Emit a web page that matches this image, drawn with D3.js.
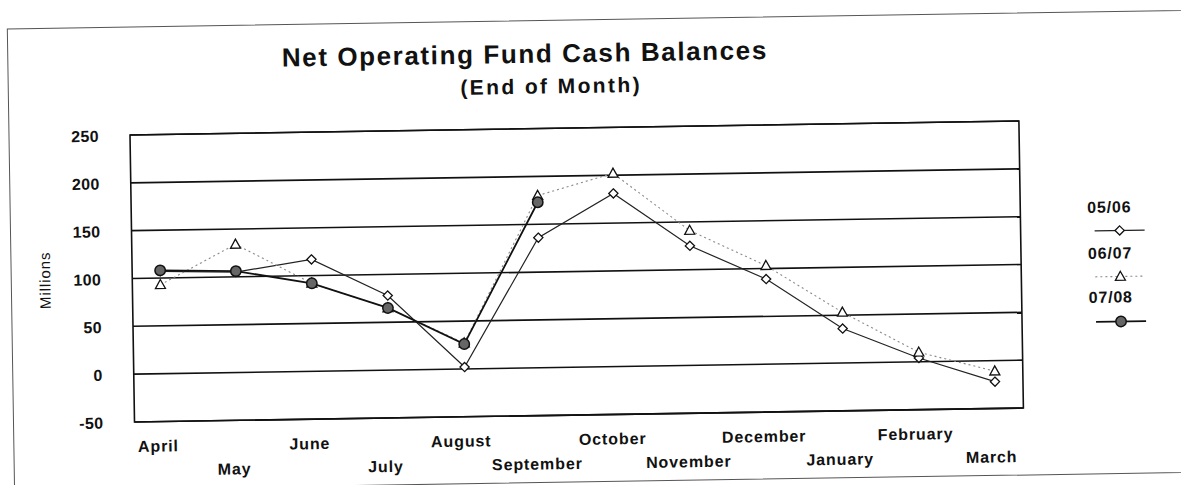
<!DOCTYPE html>
<html>
<head>
<meta charset="utf-8">
<script src="https://cdn.jsdelivr.net/npm/d3@7/dist/d3.min.js"></script>
<style>
  html, body { margin: 0; padding: 0; background: #fff; }
  svg { display: block; }
  text { font-family: "Liberation Sans", Arial, Helvetica, sans-serif; fill: #111; }
</style>
</head>
<body>
<svg id="chart" width="1181" height="485"></svg>
<script>
// ---- data ----
const months = ["April","May","June","July","August","September","October","November","December","January","February","March"];
const s0506 = [107, 105, 117, 78, 2, 136, 181, 125, 89, 36, 4, -22];
const s0607 = [93, 134, 92, 65, 27, 180, 202, 141, 103, 53, 10, -11];
const s0708 = [108, 106, 92, 65, 26, 173, null, null, null, null, null, null];
const seriesNames = ["05/06", "06/07", "07/08"];
const yTicks = [-50, 0, 50, 100, 150, 200, 250];
const titleText = "Net Operating Fund Cash Balances";
const subtitleText = "(End of Month)";
const yAxisTitle = "Millions";

// ---- layout ----
const W = 1181, H = 485;
const plot = { left: 130, top: 135, right: 1019, bottom: 422 };

const svg = d3.select("#chart");
svg.append("rect").attr("width", W).attr("height", H).attr("fill", "#fff");

// scanned page is slightly tilted
const g = svg.append("g").attr("transform", `rotate(-0.9,${plot.left},${plot.top})`);

// outer frame
g.append("rect").attr("x", 9).attr("y", 27).attr("width", 1300).attr("height", 462)
  .attr("fill", "none").attr("stroke", "#555").attr("stroke-width", 1);

const x = d3.scalePoint().domain(months).range([plot.left, plot.right]).padding(0.37);
const y = d3.scaleLinear().domain([-50, 250]).range([plot.bottom, plot.top]);

// title
g.append("text").attr("x", 283).attr("y", 69)
  .style("font-size", "26px").style("font-weight", "bold").style("letter-spacing", "1.6px")
  .text(titleText);
g.append("text").attr("x", 461).attr("y", 100)
  .style("font-size", "21px").style("font-weight", "bold").style("letter-spacing", "2.4px")
  .text(subtitleText);

// gridlines
g.append("g").selectAll("line").data(yTicks).join("line")
  .attr("x1", plot.left).attr("x2", plot.right)
  .attr("y1", d => y(d)).attr("y2", d => y(d))
  .attr("stroke", "#111").attr("stroke-width", 1.6);

// plot border
g.append("rect").attr("x", plot.left).attr("y", plot.top)
  .attr("width", plot.right - plot.left).attr("height", plot.bottom - plot.top)
  .attr("fill", "none").attr("stroke", "#111").attr("stroke-width", 1.6);

// y axis
const yAxis = g.append("g").attr("transform", `translate(${plot.left},0)`)
  .call(d3.axisLeft(y).tickValues(yTicks).tickSize(0).tickPadding(31).tickFormat(d => String(d)));
yAxis.select(".domain").remove();
yAxis.selectAll("text").style("font-size", "16px").style("font-weight", "bold")
  .style("letter-spacing", "0.4px").attr("fill", "#111").attr("dy", "0.36em");

// x axis
const xAxis = g.append("g").attr("transform", `translate(0,${plot.bottom})`)
  .call(d3.axisBottom(x).tickSize(0));
xAxis.select(".domain").remove();
xAxis.selectAll("text").style("font-size", "16px").style("font-weight", "bold")
  .style("letter-spacing", "0.9px").attr("fill", "#111")
  .attr("dy", 0).attr("dx", -5)
  .attr("y", (d, i) => (i % 2 === 0 ? 30 : 54));

// y axis title
g.append("text").attr("transform", "translate(48,279) rotate(-90)")
  .attr("text-anchor", "middle")
  .style("font-size", "15px").style("letter-spacing", "0.9px")
  .text(yAxisTitle);

// lines
const line = d3.line().defined(d => d.v !== null).x(d => x(d.m)).y(d => y(d.v));
const toPts = arr => months.map((m, i) => ({ m, v: arr[i] }));

const diamond = "M0,-4.6L4.6,0L0,4.6L-4.6,0Z";
const triangle = "M0,-5.2L5,3.8L-5,3.8Z";

const styles = [
  { data: s0506, stroke: "#222", width: 1.2, dash: null, marker: "diamond" },
  { data: s0607, stroke: "#8a8a8a", width: 1.1, dash: "2,3", marker: "triangle" },
  { data: s0708, stroke: "#111", width: 1.8, dash: null, marker: "circle" }
];

function drawMarker(sel, type) {
  if (type === "circle") {
    sel.append("circle").attr("r", 5.2).attr("fill", "#666").attr("stroke", "#111").attr("stroke-width", 1.5);
  } else {
    sel.append("path").attr("d", type === "diamond" ? diamond : triangle)
      .attr("fill", "#fff").attr("stroke", "#111").attr("stroke-width", 1.3);
  }
}

styles.forEach(s => {
  const pts = toPts(s.data);
  g.append("path").datum(pts).attr("d", line)
    .attr("fill", "none").attr("stroke", s.stroke).attr("stroke-width", s.width)
    .attr("stroke-dasharray", s.dash);
  const mg = g.append("g").selectAll("g").data(pts.filter(d => d.v !== null)).join("g")
    .attr("transform", d => `translate(${x(d.m)},${y(d.v)})`);
  drawMarker(mg, s.marker);
});

// legend
const legend = g.append("g");
const legendTextY = [228, 274, 318];
const legendLineY = [246, 292, 337];
seriesNames.forEach((name, i) => {
  legend.append("text").attr("x", 1086).attr("y", legendTextY[i])
    .style("font-size", "16px").style("font-weight", "bold").style("letter-spacing", "0.8px")
    .text(name);
  const s = styles[i];
  legend.append("line").attr("x1", 1093).attr("x2", 1143)
    .attr("y1", legendLineY[i]).attr("y2", legendLineY[i])
    .attr("stroke", s.stroke).attr("stroke-width", s.width).attr("stroke-dasharray", s.dash);
  const mk = legend.append("g").attr("transform", `translate(1118,${legendLineY[i]})`);
  drawMarker(mk, s.marker);
});
</script>
</body>
</html>
